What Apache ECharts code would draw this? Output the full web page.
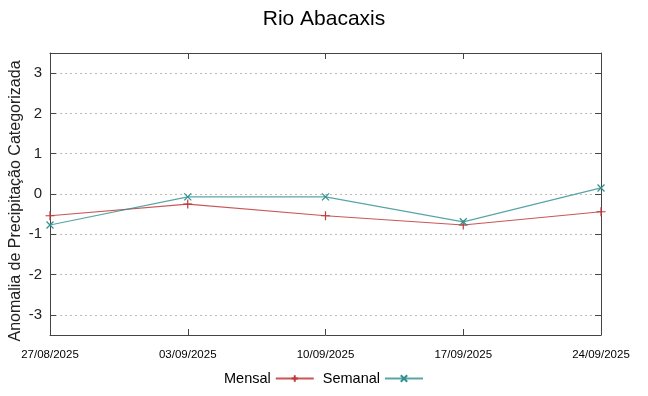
<!DOCTYPE html>
<html><head><meta charset="utf-8">
<script src="https://cdn.jsdelivr.net/npm/echarts@6/dist/echarts.min.js"></script>
<style>html,body{margin:0;padding:0;background:#fff}#c{width:648px;height:396px}</style>
</head><body><div id="c"></div>
<script>
const categories = ['27/08/2025','03/09/2025','10/09/2025','17/09/2025','24/09/2025'];
const mensal = [-0.54, -0.25, -0.54, -0.77, -0.44];
const semanal = [-0.77, -0.07, -0.07, -0.69, 0.15];
const yTicks = [-3,-2,-1,0,1,2,3];

const red = '#c0393b', teal = '#2f8f8f';
const plusPath = 'path://M0,5L10,5M5,0L5,10';
const crossPath = 'path://M0,0L10,10M10,0L0,10';
const font = 'Liberation Sans, Arial, sans-serif';
const chart = echarts.init(document.getElementById('c'));
chart.setOption({
  animation: false,
  title: {text: 'Rio Abacaxis', left: 'center', top: 4, textStyle: {fontFamily: font, fontSize: 21, fontWeight: 'normal', color: '#000'}},
  grid: {left: 50, right: 47, top: 53, bottom: 61, show: false, outerBoundsMode: 'none', containLabel: false},
  legend: {
    bottom: 5, left: 'center', align: 'right', itemGap: 8, itemWidth: 38, itemHeight: 8,
    textStyle: {fontFamily: font, fontSize: 14.5, color: '#000'},
    data: ['Mensal','Semanal']
  },
  xAxis: [{
    type: 'category', data: categories, boundaryGap: false,
    axisLine: {onZero: false, lineStyle: {color: '#444', width: 1}},
    axisTick: {inside: true, length: 6, lineStyle: {color: '#444'}},
    axisLabel: {fontFamily: font, fontSize: 11.5, color: '#000', margin: 14, showMinLabel: true, showMaxLabel: true, interval: 0},
    splitLine: {show: false}
  },{
    type: 'category', data: categories, boundaryGap: false, position: 'top',
    axisLine: {onZero: false, lineStyle: {color: '#444', width: 1}},
    axisTick: {inside: true, length: 6, lineStyle: {color: '#444'}},
    axisLabel: {show: false}
  }],
  yAxis: [{
    type: 'value', min: -3.5, max: 3.5,
    name: 'Anomalia de Precipitação Categorizada', nameLocation: 'middle', nameGap: 26, nameMoveOverlap: false,
    nameTextStyle: {fontFamily: font, fontSize: 16, color: '#222', padding: [0, 14, 0, 0]},
    axisLine: {show: true, onZero: false, lineStyle: {color: '#444'}},
    axisTick: {show: true, inside: true, length: 6, lineStyle: {color: '#444'}, customValues: yTicks},
    axisLabel: {fontFamily: font, fontSize: 15, color: '#222', margin: 8, customValues: yTicks},
    splitLine: {show: true, lineStyle: {color: '#bbb', type: [2,3], width: 1}, customValues: yTicks}
  },{
    type: 'value', min: -3.5, max: 3.5, position: 'right',
    axisLine: {show: true, onZero: false, lineStyle: {color: '#444'}},
    axisTick: {show: true, inside: true, length: 6, lineStyle: {color: '#444'}, customValues: yTicks},
    axisLabel: {show: false}, splitLine: {show: false}
  }],
  series: [{
    name: 'Mensal', type: 'line', data: mensal,
    symbol: plusPath, symbolSize: 9,
    lineStyle: {color: red, width: 1.2, opacity: 0.85},
    itemStyle: {color: 'rgba(0,0,0,0)', borderColor: red, borderWidth: 1.2}
  },{
    name: 'Semanal', type: 'line', data: semanal,
    symbol: crossPath, symbolSize: 7,
    lineStyle: {color: teal, width: 1.2, opacity: 0.8},
    itemStyle: {color: 'rgba(0,0,0,0)', borderColor: teal, borderWidth: 1.2}
  }]
});
</script></body></html>
